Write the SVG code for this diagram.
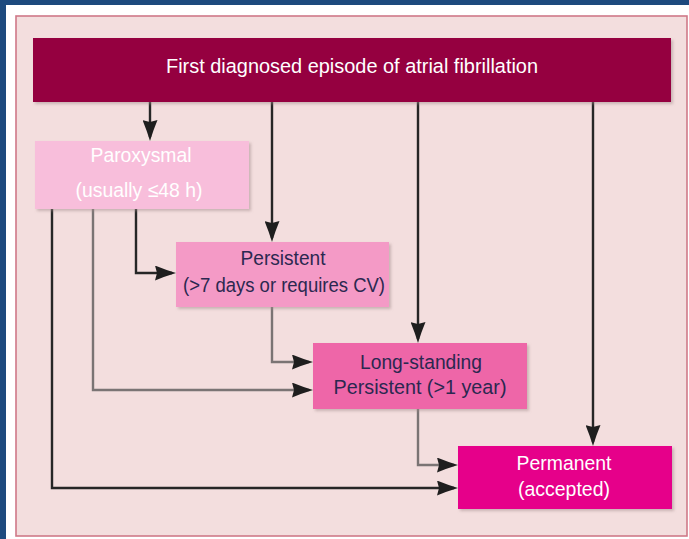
<svg xmlns="http://www.w3.org/2000/svg" width="689" height="539" viewBox="0 0 689 539">
<defs>
<style>
.t{font-family:"Liberation Sans","DejaVu Sans",sans-serif;font-size:20.5px;text-anchor:middle}
.w{fill:#ffffff}
.d{fill:#2b2850}
.c{fill:none;stroke-width:2.4}
.k{stroke:#262626}
.g{stroke:#7a7474}
</style>
<marker id="ah" viewBox="0 0 21 15" refX="17" refY="7.5" markerWidth="21" markerHeight="15" markerUnits="userSpaceOnUse" orient="auto">
<path d="M0,0 Q10,4.2 21,7.5 Q10,10.8 0,15 L2,7.5 Z" fill="#1e1e1e"/>
</marker>
<filter id="sh" x="-5%" y="-5%" width="115%" height="125%">
<feDropShadow dx="2" dy="2" stdDeviation="1.5" flood-color="#a08888" flood-opacity="0.5"/>
</filter>
</defs>
<rect x="0" y="0" width="689" height="539" fill="#1d4a7e"/>
<rect x="6" y="5" width="683" height="534" fill="#ffffff"/>
<rect x="16" y="16" width="671" height="520" fill="#f3dede" stroke="#cf7888" stroke-width="1.6"/>
<g id="connectors">
<path class="c k" d="M150,102 V137" marker-end="url(#ah)"/>
<path class="c k" d="M272,102 V238" marker-end="url(#ah)"/>
<path class="c k" d="M418,102 V339" marker-end="url(#ah)"/>
<path class="c k" d="M593,102 V442" marker-end="url(#ah)"/>
<path class="c k" d="M136,209 V273 H172" marker-end="url(#ah)"/>
<path class="c g" d="M93,209 V390 H309" marker-end="url(#ah)"/>
<path class="c k" d="M52,209 V488 H454" marker-end="url(#ah)"/>
<path class="c g" d="M272,307 V362 H309" marker-end="url(#ah)"/>
<path class="c g" d="M418,409 V465 H454" marker-end="url(#ah)"/>
</g>
<g id="first">
<rect x="33" y="38" width="638" height="64" fill="#950040" filter="url(#sh)"/>
<text class="t w" x="352" y="73" font-size="20" textLength="372" lengthAdjust="spacingAndGlyphs">First diagnosed episode of atrial fibrillation</text>
</g>
<g id="paroxysmal">
<rect x="35" y="141" width="214" height="68" fill="#f8bedb" filter="url(#sh)"/>
<text class="t w" x="141" y="162" textLength="101" lengthAdjust="spacingAndGlyphs">Paroxysmal</text>
<text class="t w" x="139" y="197" textLength="127" lengthAdjust="spacingAndGlyphs">(usually ≤48 h)</text>
</g>
<g id="persistent">
<rect x="176" y="242" width="213" height="65" fill="#f49ac6" filter="url(#sh)"/>
<text class="t d" x="283" y="265" textLength="85" lengthAdjust="spacingAndGlyphs">Persistent</text>
<text class="t d" x="284" y="292" textLength="202" lengthAdjust="spacingAndGlyphs">(&gt;7 days or requires CV)</text>
</g>
<g id="longstanding">
<rect x="313" y="343" width="214" height="66" fill="#ee66a8" filter="url(#sh)"/>
<text class="t d" x="421" y="369" textLength="122" lengthAdjust="spacingAndGlyphs">Long-standing</text>
<text class="t d" x="420" y="394" textLength="173" lengthAdjust="spacingAndGlyphs">Persistent (&gt;1 year)</text>
</g>
<g id="permanent">
<rect x="458" y="446" width="214" height="63" fill="#e6008a" filter="url(#sh)"/>
<text class="t w" x="564" y="470" textLength="95" lengthAdjust="spacingAndGlyphs">Permanent</text>
<text class="t w" x="564" y="496" textLength="92" lengthAdjust="spacingAndGlyphs">(accepted)</text>
</g>
</svg>
